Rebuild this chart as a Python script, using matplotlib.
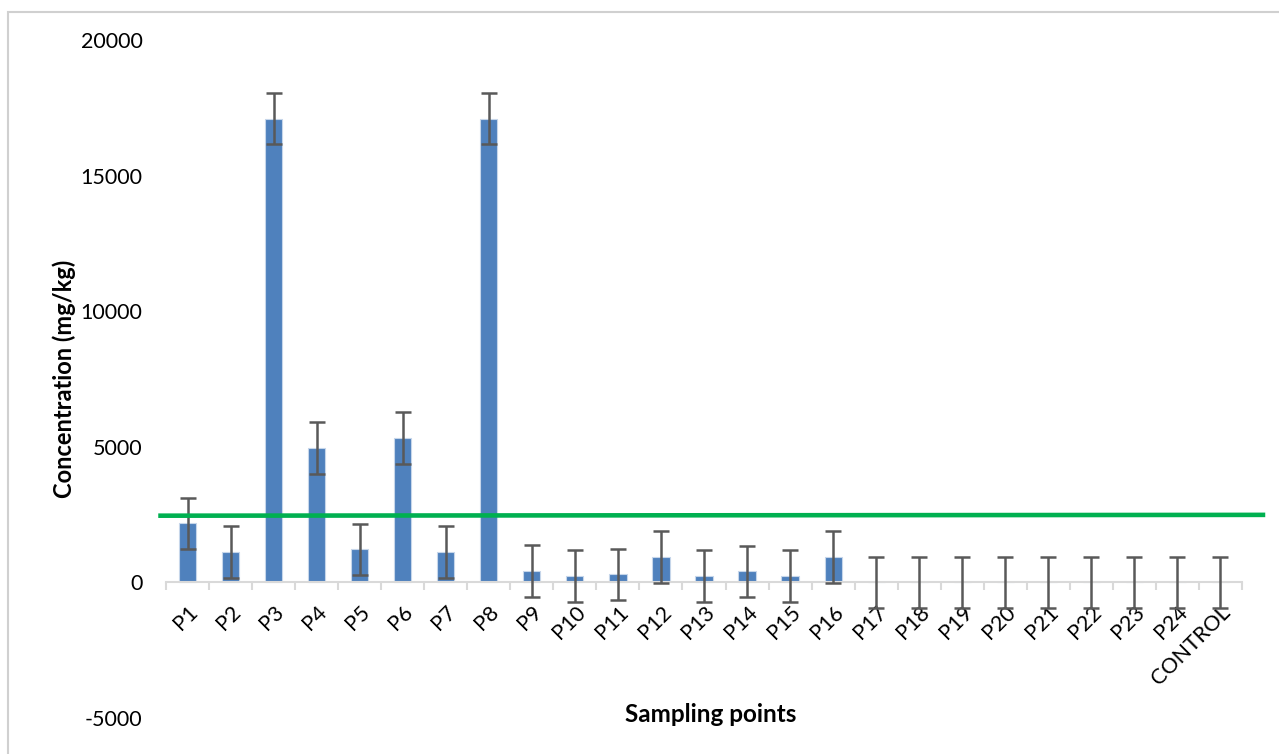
import numpy as np
import matplotlib.pyplot as plt
from matplotlib.patches import Rectangle

plt.rcParams['font.family'] = ['Lato', 'DejaVu Sans']
plt.rcParams['axes.unicode_minus'] = False

points = ['P1', 'P2', 'P3', 'P4', 'P5', 'P6', 'P7', 'P8', 'P9', 'P10', 'P11', 'P12',
          'P13', 'P14', 'P15', 'P16', 'P17', 'P18', 'P19', 'P20', 'P21', 'P22', 'P23',
          'P24', 'CONTROL']
conc = [2180, 1130, 17100, 4960, 1220, 5320, 1130, 17100, 430, 240, 300, 940,
        240, 410, 240, 940, 0, 0, 0, 0, 0, 0, 0, 0, 0]
err = [950] * len(points)
limit = 2460  # reference limit line (mg/kg)

x = np.arange(len(points))

fig = plt.figure(figsize=(12.79, 7.54), dpi=100)
ax = fig.add_axes([166 / 1279, 1 - 718 / 754, (1242 - 166) / 1279, (718 - 40) / 754])

ax.bar(x, conc, width=0.4, color='#4f81bd', edgecolor='#c6d6ea', linewidth=0.8, zorder=2)
ax.errorbar(x, conc, yerr=err, fmt='none', ecolor='#595959', elinewidth=1.8,
            capsize=5.5, capthick=1.8, zorder=3)
ax.plot([-0.68, 25.04], [limit, limit + 30], color='#00b050', lw=3.3,
        clip_on=False, zorder=4, solid_capstyle='butt')

ax.set_xlim(-0.5, len(points) - 0.5)
ax.set_ylim(-5000, 20000)
ax.set_yticks(np.arange(-5000, 20001, 5000))
ax.tick_params(axis='y', length=0, pad=17, labelsize=15.5)

for s in ['top', 'right', 'left']:
    ax.spines[s].set_visible(False)
ax.spines['bottom'].set_position(('data', 0))
ax.spines['bottom'].set_color('#d9d9d9')
ax.spines['bottom'].set_linewidth(1.5)

ax.set_xticks(x)
ax.set_xticklabels(points, rotation=45, ha='right', rotation_mode='anchor', fontsize=15.5)
ax.tick_params(axis='x', which='major', length=0, pad=14)
ax.set_xticks(np.arange(-0.5, len(points), 1.0), minor=True)
ax.tick_params(axis='x', which='minor', length=6, width=1.5, color='#d9d9d9', direction='out')

ax.set_ylabel('Concentration (mg/kg)', fontsize=17, fontweight='bold', va='center')
ax.yaxis.set_label_coords(-102 / 1076, 0.5)
ax.set_xlabel('Sampling points', fontsize=17.5, fontweight='bold', va='center')
ax.xaxis.set_label_coords(0.506, 3 / 678)

# chart frame
fig.patches.append(Rectangle((8 / 1279, -0.1), 1.2, 1 - 12 / 754 + 0.1,
                             transform=fig.transFigure, fill=False,
                             edgecolor='#d0d0d0', lw=1.5))

fig.savefig('out.png', dpi=100)
